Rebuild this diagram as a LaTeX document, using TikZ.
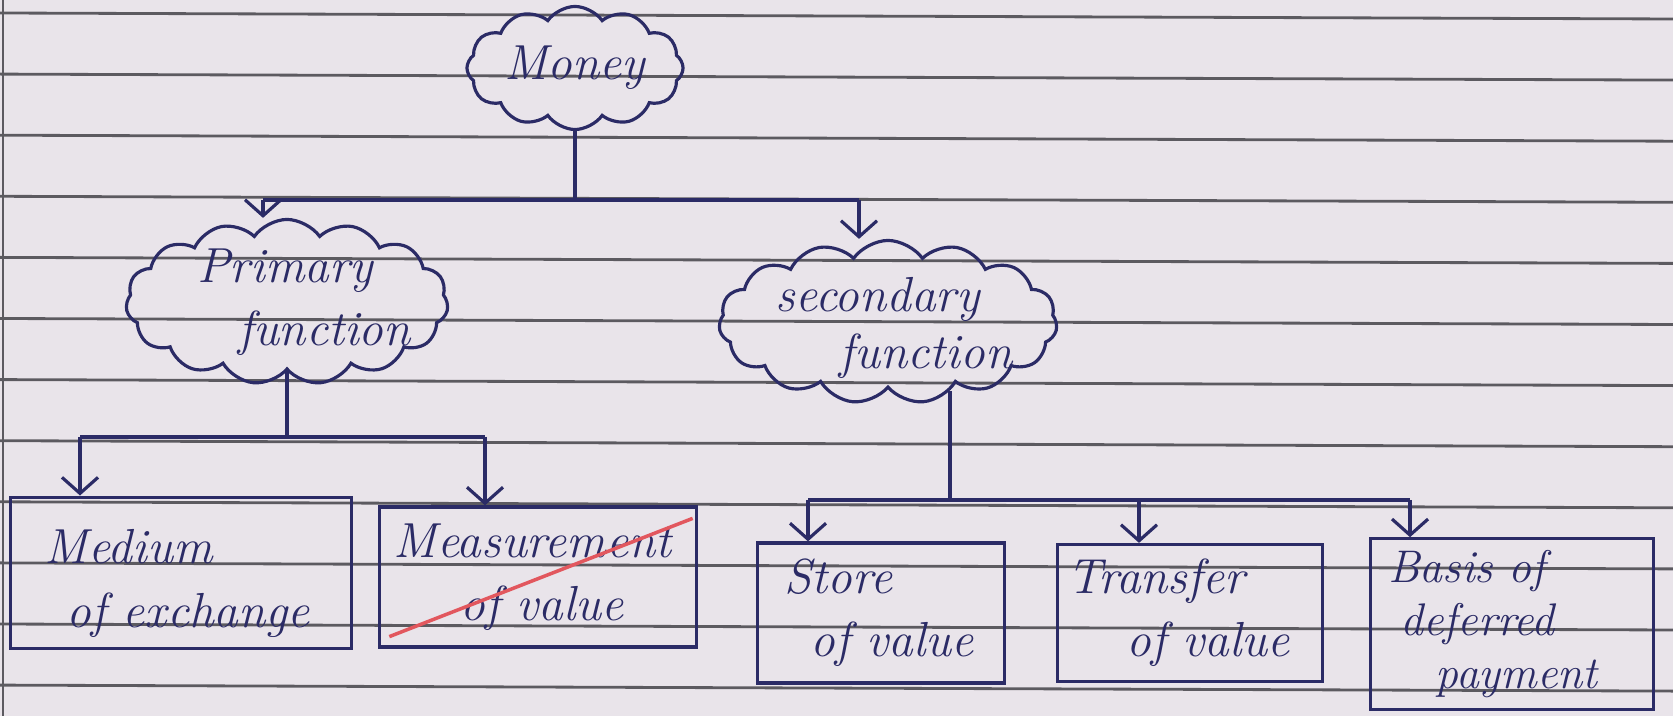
\documentclass[tikz,border=0pt]{standalone}
\usetikzlibrary{shapes.symbols,arrows.meta}
\definecolor{ink}{HTML}{2B2B66}
\definecolor{paper}{HTML}{E9E4EA}
\definecolor{ruling}{HTML}{5C5A60}
\definecolor{redpen}{HTML}{E2575E}
\tikzset{
  hand/.style={font=\fontsize{14}{18}\selectfont\itshape, text=ink},
  puff/.style={draw=ink, line width=0.9pt, cloud, cloud puffs=15, cloud puff arc=110, cloud ignores aspect, inner sep=0pt},
  box/.style={draw=ink, line width=0.9pt, align=left, inner xsep=0.1cm, hand},
  link/.style={draw=ink, line width=0.9pt},
  down/.style={link, -{Straight Barb[length=1.6mm,width=3.6mm]}}
}
\begin{document}
\begin{tikzpicture}[x=0.01cm,y=-0.01cm]
\fill[paper] (0,0) rectangle (1673,716);
\useasboundingbox (0,0) rectangle (1673,716);
\foreach \k in {0,...,11}
  \draw[ruling, line width=0.8pt] (0,13+61.1*\k) -- (1673,19+61.1*\k);
\draw[ruling, line width=0.8pt] (3,0) -- (3,716);

\node[puff, cloud puffs=12, minimum width=2.16cm, minimum height=1.23cm] (money) at (575,68) {};
\node[hand] (moneytext) at (money.center) {Money};
\node[puff, minimum width=3.22cm, minimum height=1.65cm] (primary) at (287,302) {};
\node[hand, align=left] (primarytext) at ([xshift=0.17cm]primary.center) {Primary\\\hspace*{0.41cm}function};
\node[puff, minimum width=3.38cm, minimum height=1.63cm] (secondary) at (888,322) {};
\node[hand, align=left] (secondarytext) at ([shift={(6,6)}]secondary.center) {secondary\\[-2pt]\hspace*{0.64cm}function};

\node[box, text width=3.2cm, minimum height=1.4cm] (medium) at (181,573) {\rule{0pt}{0.55cm}\hspace*{0.24cm}Medium\\\hspace*{0.46cm}of exchange};
\node[box, text width=2.96cm, minimum height=1.4cm] (measure) at (538,577) {\hspace*{0.04cm}Measurement\\\hspace*{0.71cm}of value};
\node[box, text width=2.27cm, minimum height=1.4cm] (store) at (881,613) {\hspace*{0.17cm}Store\\\hspace*{0.43cm}of value};
\node[box, text width=2.45cm, minimum height=1.37cm] (transfer) at (1190,613) {Transfer\\\hspace*{0.59cm}of value};
\node[box, font=\fontsize{13}{15}\selectfont\itshape, text width=2.63cm, minimum height=1.62cm] (basis) at (1512,624) {\hspace*{0.08cm}Basis of\\\hspace*{0.2cm}deferred\\\hspace*{0.55cm}payment};

\coordinate (pj) at (263,200);
\coordinate (sj) at (859,200);
\draw[link] (money.south) -- (money.south |- pj);
\draw[link] (pj) -- (sj);
\draw[down] (pj) -- (pj |- primary.north);
\draw[down] (sj) -- (sj |- secondary.north);

\coordinate (ml) at (80,437);
\coordinate (mr) at (485,437);
\draw[link] (primary.south) -- (primary.south |- ml);
\draw[link] (ml) -- (mr);
\draw[down] (ml) -- (ml |- medium.north);
\draw[down] (mr) -- (mr |- measure.north);

\coordinate (sl) at (808,500);
\coordinate (sm) at (1139,500);
\coordinate (sr) at (1410,500);
\draw[link] (secondary.312) -- (secondary.312 |- sl);
\draw[link] (sl) -- (sr);
\draw[down] (sl) -- (sl |- store.north);
\draw[down] (sm) -- (sm |- transfer.north);
\draw[down] (sr) -- (sr |- basis.north);

\draw[redpen, line width=1pt] ([shift={(11,-12)}]measure.south west) -- ([shift={(-5,13)}]measure.north east);
\end{tikzpicture}
\end{document}
